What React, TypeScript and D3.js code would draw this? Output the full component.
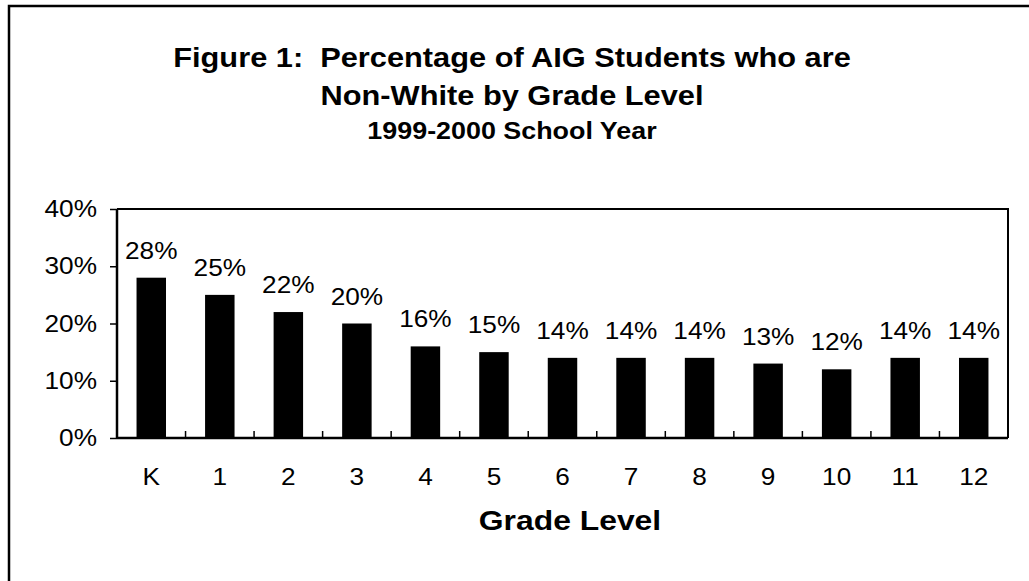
import { useEffect, useRef } from "react";
import * as d3 from "d3";

const grades = ["K", "1", "2", "3", "4", "5", "6", "7", "8", "9", "10", "11", "12"];
const nonWhitePct = [28, 25, 22, 20, 16, 15, 14, 14, 14, 13, 12, 14, 14];
const yTicks = [0, 10, 20, 30, 40];

const titleLines = ["Figure 1:  Percentage of AIG Students who are", "Non-White by Grade Level"];
const subtitle = "1999-2000 School Year";
const xTitle = "Grade Level";

const FONT = "'Liberation Sans', Arial, Helvetica, sans-serif";
// the original's lettering is a bit wider than it is tall
const STRETCH = 1.14;
const LABEL_SIZE = 23;

type G = d3.Selection<SVGGElement, unknown, null, undefined>;

function label(
  g: G,
  x: number,
  y: number,
  text: string,
  size: number,
  opts: { bold?: boolean; anchor?: string; dy?: string; stretch?: number } = {}
) {
  return g
    .append("text")
    .attr("transform", `translate(${x},${y}) scale(${opts.stretch ?? STRETCH},1)`)
    .attr("font-family", FONT)
    .attr("font-size", size)
    .attr("font-weight", opts.bold ? "bold" : "normal")
    .attr("text-anchor", opts.anchor ?? "middle")
    .attr("dy", opts.dy ?? null)
    .attr("fill", "#000")
    .style("white-space", "pre")
    .text(text);
}

export default function App() {
  const svgRef = useRef<SVGSVGElement>(null);
  const width = 1029;
  const height = 581;

  useEffect(() => {
    if (!svgRef.current) return;
    const svg = d3.select(svgRef.current);
    svg.selectAll("*").remove();

    // plot box edges (pixels)
    const left = 117;
    const right = 1008;
    const top = 209;
    const bottom = 438;

    const x = d3.scaleBand().domain(grades).range([left, right]).padding(0);
    const y = d3.scaleLinear().domain([0, 40]).range([bottom, top]);
    const barW = x.bandwidth() * 0.43;

    // outer frame, runs off the right and bottom edge like the original
    svg
      .append("rect")
      .attr("x", 9)
      .attr("y", 6)
      .attr("width", 1040)
      .attr("height", 600)
      .attr("fill", "none")
      .attr("stroke", "#000")
      .attr("stroke-width", 2.5);

    const root = svg.append("g") as G;

    // titles
    titleLines.forEach((t, i) => label(root, 512, 67 + i * 38, t, 27, { bold: true }));
    label(root, 512, 139, subtitle, 24, { bold: true, stretch: 1.12 });

    // bars
    root
      .append("g")
      .selectAll("rect")
      .data(nonWhitePct)
      .join("rect")
      .attr("x", (_, i) => (x(grades[i]) ?? 0) + (x.bandwidth() - barW) / 2)
      .attr("y", (d) => y(d))
      .attr("width", barW)
      .attr("height", (d) => bottom - y(d))
      .attr("fill", "#000");

    // value labels
    nonWhitePct.forEach((v, i) => {
      label(root, (x(grades[i]) ?? 0) + x.bandwidth() / 2, y(v) - 19, `${v}%`, LABEL_SIZE);
    });

    // top and right frame of the plot
    root
      .append("path")
      .attr("d", `M${left},${top}H${right}V${bottom}`)
      .attr("fill", "none")
      .attr("stroke", "#000")
      .attr("stroke-width", 2);

    // y axis
    const yAxis = root
      .append("g")
      .attr("transform", `translate(${left},0)`)
      .call(d3.axisLeft(y).tickValues(yTicks).tickSize(7).tickFormat(() => ""));
    yAxis.select(".domain").attr("stroke-width", 2.5).attr("d", `M0,${top}V${bottom}`);
    yAxis.selectAll(".tick line").attr("stroke-width", 1.5);
    yTicks.forEach((t) => {
      label(root, left - 20, y(t), `${t}%`, LABEL_SIZE, { anchor: "end", dy: "0.35em" });
    });

    // x axis: labels centred on bands, ticks between bands pointing up
    const xAxis = root
      .append("g")
      .attr("transform", `translate(0,${bottom})`)
      .call(d3.axisBottom(x).tickSize(0).tickFormat(() => ""));
    xAxis.select(".domain").attr("stroke-width", 2.5).attr("d", `M${left},0H${right}`);
    xAxis
      .selectAll("line.sep")
      .data(grades.slice(1))
      .join("line")
      .attr("class", "sep")
      .attr("x1", (d) => x(d) ?? 0)
      .attr("x2", (d) => x(d) ?? 0)
      .attr("y1", 0)
      .attr("y2", -7)
      .attr("stroke", "#000")
      .attr("stroke-width", 1.5);
    grades.forEach((gr) => {
      label(root, (x(gr) ?? 0) + x.bandwidth() / 2, 485, gr, LABEL_SIZE);
    });

    label(root, 570, 530, xTitle, 27, { bold: true, stretch: 1.18 });

    return () => {
      svg.selectAll("*").remove();
    };
  }, []);

  return (
    <svg
      ref={svgRef}
      width={width}
      height={height}
      style={{ position: "absolute", left: 0, top: 0, background: "#fff" }}
    />
  );
}
